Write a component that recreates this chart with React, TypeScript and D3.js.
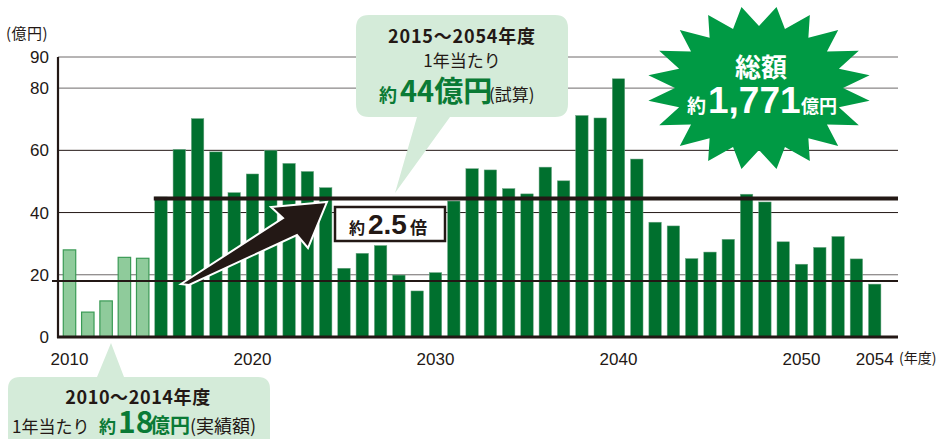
import React from "react";
import * as d3 from "d3";

const years: number[] = d3.range(2010, 2055);
const values: number[] = [
  28, 8, 11.6, 25.6, 25.3,
  45, 60.3, 70.2, 59.5, 46.4, 52.4, 60, 55.8, 53.2, 48,
  22.1, 26.9, 29.4, 19.9, 14.8, 20.7, 43.7, 54.1, 53.7, 47.7,
  46, 54.6, 50.2, 71.2, 70.4, 83, 57.2, 36.9, 35.7, 25.2,
  27.3, 31.4, 45.9, 43.4, 30.6, 23.4, 28.8, 32.3, 25.1, 17,
];
const actualYears = 5; // 2010-2014 actual
const yTicks: number[] = [0, 20, 40, 60, 80, 90];
const xTickYears: number[] = [2010, 2020, 2030, 2040, 2050, 2054];
const avgActual = 18;
const avgForecast = 44.5;

const W = 942;
const H = 439;
const FONT = "'Noto Sans CJK JP', 'Noto Sans', sans-serif";
const NUMFONT = "'Liberation Sans', Arial, sans-serif";
const DARK = "#00702e";
const LIGHT = "#8fcb9b";
const LIGHT_STROKE = "#3a9a55";
const BUBBLE = "#d4ebd9";
const TEXT = "#231815";
const GREEN_TEXT = "#0a7a35";

export default function App() {
  const y = d3.scaleLinear().domain([0, 90]).range([337, 57]);
  const x = d3
    .scaleBand<number>()
    .domain(years)
    .range([60.35, 883.85])
    .paddingInner(0.32)
    .paddingOuter(0.16);
  const bw = x.bandwidth();
  const axisLeft = 58;
  const axisRight = 898;

  // starburst
  const cx = 759, cy = 88, n = 20;
  const starPts: [number, number][] = [];
  for (let i = 0; i < n * 2; i++) {
    const a = ((9 + i * 9) * Math.PI) / 180;
    const outer = i % 2 === 0;
    const rx = outer ? 112 : 84;
    const ry = outer ? 82 : 62;
    starPts.push([cx + rx * Math.sin(a), cy - ry * Math.cos(a)]);
  }
  const starPath = d3.line()(starPts) + "Z";

  const arrowPts: [number, number][] = [
    [181, 284], [283, 218], [271, 207], [327, 202], [308, 248], [297, 235], [189, 285],
  ];
  const arrowPath = d3.line()(arrowPts) + "Z";

  return (
    <svg
      width={W}
      height={H}
      style={{ position: "absolute", left: 0, top: 0, background: "#fff" }}
      fontFamily={FONT}
    >
      {/* unit label */}
      <text x={6} y={39} fontSize={15} letterSpacing={0.5} fill={TEXT}>(億円)</text>

      {/* gridlines */}
      {yTicks.filter((t) => t > 0).map((t) => (
        <line
          key={t}
          x1={axisLeft}
          x2={axisRight}
          y1={y(t)}
          y2={y(t)}
          stroke={t === 40 || t === 60 ? "#231815" : "#6e6a6a"}
          strokeWidth={1}
        />
      ))}
      {yTicks.map((t) => (
        <text
          key={t}
          x={49}
          y={y(t) + 6}
          textAnchor="end"
          fontSize={17}
          fontFamily={NUMFONT}
          fill={TEXT}
        >
          {t}
        </text>
      ))}

      {/* bars */}
      {years.map((yr, i) => {
        const v = values[i];
        const light = i < actualYears;
        return (
          <rect
            key={yr}
            x={x(yr)}
            y={y(v)}
            width={bw}
            height={y(0) - y(v)}
            fill={light ? LIGHT : DARK}
            stroke={light ? LIGHT_STROKE : "#6fa585"}
            strokeWidth={light ? 1.2 : 0.5}
          />
        );
      })}

      {/* average lines */}
      <line x1={52} x2={axisRight} y1={y(avgActual)} y2={y(avgActual)} stroke="#231815" strokeWidth={2.2} />
      <line x1={(x(2015) ?? 0) - 1} x2={axisRight} y1={y(avgForecast)} y2={y(avgForecast)} stroke="#231815" strokeWidth={4} />

      {/* axes */}
      <line x1={axisLeft} x2={axisLeft} y1={y(90)} y2={y(0) + 1} stroke="#231815" strokeWidth={2.2} />
      <line x1={axisLeft - 1} x2={axisRight} y1={y(0)} y2={y(0)} stroke="#231815" strokeWidth={3} />

      {xTickYears.map((yr) => (
        <text
          key={yr}
          x={(x(yr) ?? 0) + bw / 2}
          y={365}
          textAnchor="middle"
          fontSize={17}
          fontFamily={NUMFONT}
          fill={TEXT}
        >
          {yr}
        </text>
      ))}
      <text x={899} y={363} fontSize={14} fill={TEXT}>(年度)</text>

      {/* arrow */}
      <path d={arrowPath} fill="#231815" stroke="#fff" strokeWidth={2} strokeLinejoin="miter" />

      {/* 2.5x box */}
      <rect x={335} y={207} width={110} height={34} fill="#fff" stroke="#231815" strokeWidth={2.5} />
      <text x={349} y={234} fill={TEXT} fontWeight="bold" fontSize={16}>約</text>
      <text x={368} y={234} fill={TEXT} fontWeight="bold" fontSize={28} fontFamily={NUMFONT}>2.5</text>
      <text x={410} y={234} fill={TEXT} fontWeight="bold" fontSize={17}>倍</text>

      {/* top bubble */}
      <path
        d="M369,15 H555 Q568,15 568,28 V104 Q568,117 555,117 H450 L395,193 L417,117 H369 Q356,117 356,104 V28 Q356,15 369,15 Z"
        fill={BUBBLE}
      />
      <text x={462} y={43} textAnchor="middle" fontSize={18} letterSpacing={0.8} fontWeight="bold" fill={TEXT}>2015～2054年度</text>
      <text x={462} y={67} textAnchor="middle" fontSize={17} fill={TEXT}>1年当たり</text>
      <text x={379} y={102} fontSize={18} fontWeight="bold" fill={GREEN_TEXT}>約</text>
      <text x={400} y={102} fontSize={29} fontWeight="bold" fill={GREEN_TEXT}>44億円</text>
      <text x={489} y={101} fontSize={17} fill={TEXT}>(試算)</text>

      {/* bottom bubble */}
      <path
        d="M20,377 H97 L111,343 L124,377 H258 Q270,377 270,389 V445 H8 V389 Q8,377 20,377 Z"
        fill={BUBBLE}
      />
      <text x={138} y={404} textAnchor="middle" fontSize={18} letterSpacing={0.6} fontWeight="bold" fill={TEXT}>2010～2014年度</text>
      <text x={12} y={433} fontSize={17} fill={TEXT}>1年当たり</text>
      <text x={99} y={433} fontSize={17} fontWeight="bold" fill={GREEN_TEXT}>約</text>
      <text x={118} y={433} fontSize={30} fontWeight="bold" fill={GREEN_TEXT}>18</text>
      <text x={150} y={433} fontSize={20} fontWeight="bold" fill={GREEN_TEXT}>億円</text>
      <text x={190} y={433} fontSize={18} fill={TEXT}>(実績額)</text>

      {/* starburst */}
      <path d={starPath} fill="#009a44" />
      <text x={cx + 2} y={77} textAnchor="middle" fontSize={26} fontWeight="bold" fill="#fff">総額</text>
      <text x={687} y={113} fontSize={19} fontWeight="bold" fill="#fff">約</text>
      <text x={708} y={113} fontSize={37} fontWeight="bold" fontFamily={NUMFONT} fill="#fff">1,771</text>
      <text x={801} y={113} fontSize={18} fontWeight="bold" fill="#fff">億円</text>
    </svg>
  );
}
